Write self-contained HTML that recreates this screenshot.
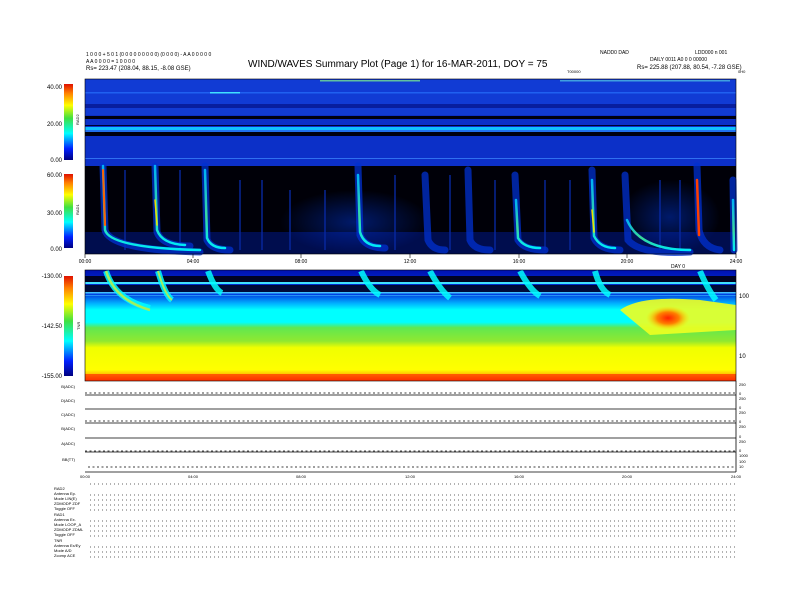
<!DOCTYPE html>
<html><head><meta charset="utf-8"><style>
body{margin:0;background:#fff;width:792px;height:612px;overflow:hidden}
svg{display:block}
text{font-family:"Liberation Sans",sans-serif}
</style></head><body>
<svg width="792" height="612" viewBox="0 0 792 612" xmlns="http://www.w3.org/2000/svg">
<defs>
<linearGradient id="cb" x1="0" y1="1" x2="0" y2="0">
<stop offset="0" stop-color="#000080"/><stop offset="0.15" stop-color="#0020ff"/><stop offset="0.35" stop-color="#00ffff"/><stop offset="0.55" stop-color="#40e040"/><stop offset="0.72" stop-color="#ffff00"/><stop offset="0.88" stop-color="#ff8000"/><stop offset="1" stop-color="#e01000"/>
</linearGradient>
<linearGradient id="tnr" x1="0" y1="0" x2="0" y2="1">
<stop offset="0" stop-color="#0010b0"/><stop offset="0.22" stop-color="#0040e0"/><stop offset="0.3" stop-color="#00b0ff"/><stop offset="0.36" stop-color="#00ffff"/><stop offset="0.47" stop-color="#00ffff"/><stop offset="0.52" stop-color="#60e850"/><stop offset="0.64" stop-color="#90e830"/><stop offset="0.7" stop-color="#f0ff00"/><stop offset="0.9" stop-color="#ffff00"/><stop offset="0.95" stop-color="#ffb000"/><stop offset="1" stop-color="#ff2000"/>
</linearGradient>
<linearGradient id="burst" x1="0" y1="0" x2="0" y2="1">
<stop offset="0" stop-color="#00c0ff"/><stop offset="0.6" stop-color="#40f0a0"/><stop offset="1" stop-color="#00ffff"/>
</linearGradient>
<radialGradient id="blob"><stop offset="0" stop-color="#ff2000"/><stop offset="0.5" stop-color="#ff8000"/><stop offset="1" stop-color="#ffe000" stop-opacity="0"/></radialGradient>
<radialGradient id="glow"><stop offset="0" stop-color="#0040ff" stop-opacity="0.8"/><stop offset="1" stop-color="#0040ff" stop-opacity="0"/></radialGradient>
</defs>

<text x="86" y="56" font-size="5">1 0 0 0 + 5 0 1 (0 0 0 0 0 0 0 0 0) (0 0 0 0) - A A 0 0 0 0 0</text>
<text x="86" y="63" font-size="5">A A 0 0 0 0 = 1 0 0 0 0</text>
<text x="86" y="70" font-size="6">Rs= 223.47 (208.04, 88.15, -8.08 GSE)</text>
<text x="248" y="67" font-size="10">WIND/WAVES Summary Plot (Page 1) for 16-MAR-2011, DOY = 75</text>
<text x="600" y="54" font-size="5">NADD0 DAD</text>
<text x="695" y="54" font-size="5">LDD000 n 001</text>
<text x="650" y="61" font-size="5">DAILY 0011 A0 0 0 00000</text>
<text x="637" y="69" font-size="6">Rs= 225.88 (207.88, 80.54, -7.28 GSE)</text>
<text x="567" y="73" font-size="4">T00000</text>
<text x="738" y="73" font-size="4">0H0</text>

<!-- RAD2 -->
<rect x="85" y="79" width="651" height="87" fill="#0c30c8"/>
<rect x="85" y="79" width="651" height="36" fill="#1440d8" opacity="0.7"/>
<rect x="85" y="92" width="651" height="1.5" fill="#2060f0"/>
<rect x="85" y="104" width="651" height="4" fill="#061890" opacity="0.8"/>
<rect x="85" y="116" width="651" height="3" fill="#000010"/>
<rect x="85" y="125" width="651" height="1" fill="#000030"/>
<rect x="85" y="127" width="651" height="3" fill="#10c0ff"/>
<rect x="85" y="130" width="651" height="2" fill="#2070f0"/>
<rect x="85" y="132" width="651" height="4" fill="#000010"/>
<rect x="85" y="158" width="651" height="1" fill="#3070f0"/>
<rect x="210" y="92" width="30" height="1.5" fill="#40e0ff"/>
<rect x="320" y="80" width="100" height="1.5" fill="#60c0a0"/>
<rect x="560" y="80" width="170" height="1.5" fill="#40a0e0"/>
<!-- RAD1 -->
<rect x="85" y="166" width="651" height="88" fill="#000008"/>
<rect x="85" y="232" width="651" height="22" fill="#001060" opacity="0.8"/>
<rect x="280" y="190" width="150" height="64" fill="url(#glow)" opacity="0.5"/>
<rect x="620" y="180" width="100" height="74" fill="url(#glow)" opacity="0.5"/>
<g stroke="#0828a0" stroke-width="2" opacity="0.7">
<line x1="125" y1="170" x2="125" y2="250"/><line x1="180" y1="170" x2="180" y2="250"/><line x1="240" y1="180" x2="240" y2="250"/><line x1="262" y1="180" x2="262" y2="250"/><line x1="290" y1="190" x2="290" y2="250"/><line x1="325" y1="190" x2="325" y2="250"/><line x1="395" y1="175" x2="395" y2="250"/><line x1="450" y1="175" x2="450" y2="250"/><line x1="495" y1="180" x2="495" y2="250"/><line x1="545" y1="180" x2="545" y2="250"/><line x1="570" y1="180" x2="570" y2="250"/><line x1="660" y1="180" x2="660" y2="250"/><line x1="680" y1="180" x2="680" y2="250"/>
</g>
<g fill="none" stroke-linecap="round">
<g stroke="#0030d0" stroke-width="7" opacity="0.75">
<path d="M103 166 L105 230 Q110 250 200 252"/><path d="M155 166 L157 232 Q162 246 190 246"/><path d="M205 166 L207 240 Q212 250 230 250"/><path d="M358 166 L360 235 Q365 248 385 248"/><path d="M425 175 L428 240 Q432 250 445 250"/><path d="M468 170 L470 240 Q474 250 490 250"/><path d="M515 175 L518 240 Q524 250 545 250"/><path d="M592 170 L594 238 Q600 250 620 250"/><path d="M625 175 L628 240 Q640 255 690 252"/><path d="M697 166 L699 230 Q703 248 720 250"/><path d="M733 180 L734 250"/>
</g>
<g stroke="url(#burst)" stroke-width="2.5" opacity="0.9">
<path d="M103 166 L105 230 Q110 248 200 250"/><path d="M155 166 L157 230 Q162 244 185 245"/><path d="M205 170 L207 238 Q211 248 225 248"/><path d="M358 175 L360 232 Q364 246 380 246"/><path d="M516 200 L518 238 Q524 248 540 248"/><path d="M592 180 L594 236 Q600 248 615 248"/><path d="M627 220 Q640 250 690 250"/><path d="M733 200 L734 250"/>
</g>
<path d="M103 170 L105 225" stroke="#ff6000" stroke-width="2"/>
<path d="M697 180 L699 235" stroke="#ff4000" stroke-width="2.5"/>
<path d="M155 200 L157 225" stroke="#f0e000" stroke-width="1.5"/>
<path d="M592 210 L594 232" stroke="#f0e000" stroke-width="1.5"/>
</g>
<rect x="85" y="79" width="651" height="175" fill="none" stroke="#000" stroke-width="0.6"/>

<rect x="64" y="84" width="9" height="76" fill="url(#cb)"/>
<rect x="64" y="174" width="9" height="74" fill="url(#cb)"/>
<rect x="64" y="276" width="9" height="100" fill="url(#cb)"/>
<g font-size="6" text-anchor="end">
<text x="62" y="89">40.00</text><text x="62" y="126">20.00</text><text x="62" y="162">0.00</text>
<text x="62" y="177">60.00</text><text x="62" y="215">30.00</text><text x="62" y="251">0.00</text>
<text x="62" y="278">-130.00</text><text x="62" y="328">-142.50</text><text x="62" y="378">-155.00</text>
</g>
<g font-size="4"><text x="79" y="125" transform="rotate(-90 79 125)">RAD2</text><text x="79" y="215" transform="rotate(-90 79 215)">RAD1</text><text x="80" y="330" transform="rotate(-90 80 330)">TNR</text></g>

<g font-size="5" text-anchor="middle">
<text x="85" y="263">00:00</text><text x="193" y="263">04:00</text><text x="301" y="263">08:00</text><text x="410" y="263">12:00</text><text x="519" y="263">16:00</text><text x="627" y="263">20:00</text><text x="736" y="263">24:00</text><text x="678" y="268">DAY 0</text>
</g>
<g stroke="#000" stroke-width="0.6">
<line x1="85" y1="254" x2="85" y2="258"/><line x1="193" y1="254" x2="193" y2="258"/><line x1="301" y1="254" x2="301" y2="258"/><line x1="410" y1="254" x2="410" y2="258"/><line x1="519" y1="254" x2="519" y2="258"/><line x1="627" y1="254" x2="627" y2="258"/><line x1="736" y1="254" x2="736" y2="258"/>
</g>

<!-- TNR -->
<rect x="85" y="270" width="651" height="111" fill="url(#tnr)"/>
<rect x="85" y="276" width="651" height="6" fill="#000010" opacity="0.9"/>
<rect x="85" y="282" width="651" height="2" fill="#40e0ff"/>
<rect x="85" y="285" width="651" height="7" fill="#000010" opacity="0.8"/>
<rect x="85" y="292" width="651" height="1.5" fill="#40c0ff"/>
<rect x="85" y="295" width="651" height="1" fill="#40c0ff" opacity="0.6"/>
<g fill="none" stroke="#00ffff" stroke-width="6" opacity="0.85">
<path d="M106 271 Q115 300 150 308"/><path d="M158 271 Q165 295 172 300"/><path d="M208 271 Q215 290 222 293"/><path d="M361 271 Q370 290 380 295"/><path d="M430 271 Q440 290 450 298"/><path d="M520 271 Q530 290 540 296"/><path d="M595 271 Q600 290 610 295"/><path d="M700 271 Q708 290 716 300"/>
</g>
<path d="M106 271 Q115 300 150 310" fill="none" stroke="#a0f060" stroke-width="2.5"/>
<path d="M158 271 Q165 295 172 300" fill="none" stroke="#a0f060" stroke-width="2"/>
<path d="M620 310 Q640 295 700 300 L736 305 L736 330 L650 335 Z" fill="#f0ff20" opacity="0.9"/>
<ellipse cx="668" cy="318" rx="22" ry="12" fill="url(#blob)"/>
<rect x="85" y="374" width="651" height="7" fill="#ff3000" opacity="0.7"/>
<rect x="85" y="270" width="651" height="111" fill="none" stroke="#000" stroke-width="0.6"/>
<g font-size="6"><text x="739" y="298">100</text><text x="739" y="358">10</text></g>

<g stroke="#000" stroke-width="0.8">
<line x1="85" y1="395" x2="736" y2="395"/><line x1="85" y1="409" x2="736" y2="409"/><line x1="85" y1="423" x2="736" y2="423"/><line x1="85" y1="438" x2="736" y2="438"/><line x1="85" y1="452" x2="736" y2="452"/><line x1="85" y1="472" x2="736" y2="472"/>
<line x1="736" y1="381" x2="736" y2="472"/>
</g>
<g stroke="#000" stroke-width="0.8" stroke-dasharray="2 2.5">
<line x1="85" y1="393" x2="736" y2="393"/><line x1="85" y1="421" x2="736" y2="421"/><line x1="85" y1="451" x2="736" y2="451"/><line x1="88" y1="467" x2="736" y2="467"/>
</g>
<g font-size="4" text-anchor="end">
<text x="75" y="388">B(ADC)</text><text x="75" y="402">D(ADC)</text><text x="75" y="416">C(ADC)</text><text x="75" y="430">B(ADC)</text><text x="75" y="445">A(ADC)</text><text x="75" y="461">BB(TT)</text>
</g>
<g font-size="4"><text x="739" y="386">250</text><text x="739" y="395">0</text><text x="739" y="400">250</text><text x="739" y="409">0</text><text x="739" y="414">250</text><text x="739" y="423">0</text><text x="739" y="428">250</text><text x="739" y="438">0</text><text x="739" y="443">250</text><text x="739" y="452">0</text><text x="739" y="457">1000</text><text x="739" y="463">100</text><text x="739" y="468">10</text></g>
<g font-size="4" text-anchor="middle">
<text x="85" y="478">00:00</text><text x="193" y="478">04:00</text><text x="301" y="478">08:00</text><text x="410" y="478">12:00</text><text x="519" y="478">16:00</text><text x="627" y="478">20:00</text><text x="736" y="478">24:00</text>
</g>

<g font-size="4">
<text x="54" y="490">RAD2</text><text x="54" y="495">Antenna    Ep.</text><text x="54" y="500">Mode     LIN(E)</text><text x="54" y="505">ZDMODP  ZDF</text><text x="54" y="510">Toggle    OFF</text>
<text x="54" y="516">RAD1</text><text x="54" y="521">Antenna    Ex.</text><text x="54" y="526">Mode   LOOP_A</text><text x="54" y="531">ZDMODP ZDML</text><text x="54" y="536">Toggle    OFF</text>
<text x="54" y="542">TNR</text><text x="54" y="547">Antenna  Ex/Ey</text><text x="54" y="552">Mode     A/D</text><text x="54" y="557">Zcomp    ACE</text>
</g>
<g stroke="#000" stroke-width="0.7" stroke-dasharray="0.8 3.2">
<line x1="90" y1="484" x2="736" y2="484"/>
<line x1="90" y1="495" x2="736" y2="495"/><line x1="90" y1="500" x2="736" y2="500"/><line x1="90" y1="505" x2="736" y2="505"/><line x1="90" y1="510" x2="736" y2="510"/>
<line x1="90" y1="521" x2="736" y2="521"/><line x1="90" y1="526" x2="736" y2="526"/><line x1="90" y1="531" x2="736" y2="531"/><line x1="90" y1="536" x2="736" y2="536"/>
<line x1="90" y1="547" x2="736" y2="547"/><line x1="90" y1="552" x2="736" y2="552"/><line x1="90" y1="557" x2="736" y2="557"/>
</g>
</svg>
</body></html>
